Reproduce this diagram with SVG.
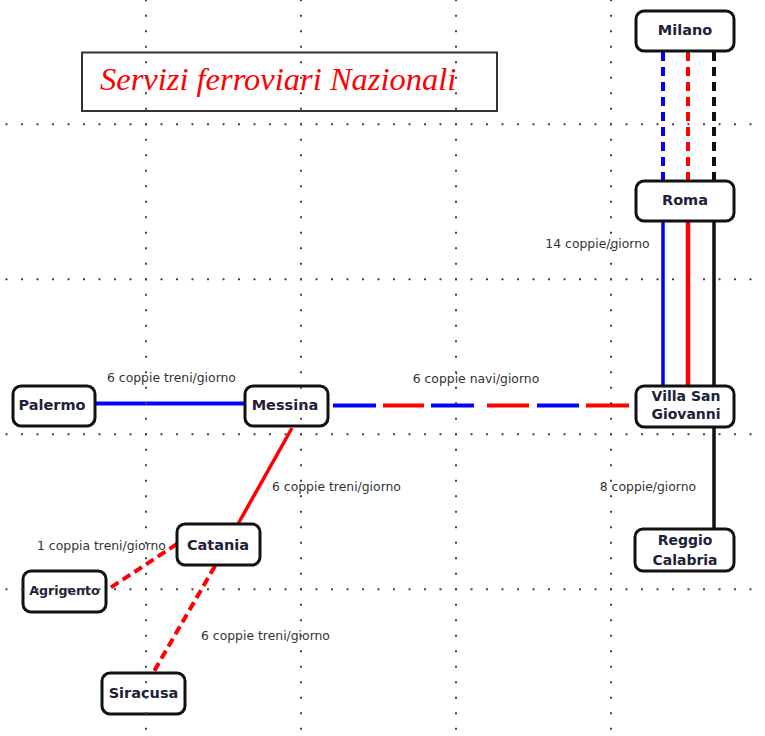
<svg xmlns="http://www.w3.org/2000/svg" width="765" height="736" viewBox="0 0 765 736">
<style>
.node rect{fill:none;stroke:#111;stroke-width:3}
.node text{font-family:"DejaVu Sans",sans-serif;font-weight:bold;font-size:14.5px;fill:#1e2238;text-anchor:middle}
.lbl{font-family:"DejaVu Sans",sans-serif;font-size:12.4px;fill:#333;text-anchor:middle}
.grid line{stroke:#444;stroke-width:2;stroke-dasharray:2 13.5}
.b{stroke:#0000ff}
.r{stroke:#ff0000}
.k{stroke:#111}
</style>
<rect width="765" height="736" fill="#fff"/>
<g id="title">
<rect x="82" y="52.5" width="415" height="58.5" fill="none" stroke="#333" stroke-width="2"/>
<text x="100" y="90" font-family="Liberation Serif, serif" font-style="italic" font-size="32.5" fill="#ff0000">Servizi ferroviari Nazionali</text>
</g>
<g id="connectors" fill="none">
<g stroke-dasharray="9 6" stroke-width="4">
<line class="b" x1="663" y1="52" x2="663" y2="180"/>
<line class="r" x1="688" y1="52" x2="688" y2="180"/>
<line class="k" x1="714" y1="52" x2="714" y2="180"/>
</g>
<line class="b" x1="663" y1="222" x2="663" y2="385" stroke-width="3.5"/>
<line class="r" x1="688" y1="222" x2="688" y2="385" stroke-width="4.5"/>
<line class="k" x1="714" y1="222" x2="714" y2="385" stroke-width="3.5"/>
<line class="k" x1="714" y1="428" x2="714" y2="528" stroke-width="3.5"/>
<line class="b" x1="96" y1="403.5" x2="244" y2="403.5" stroke-width="4"/>
<g stroke-width="4">
<line class="b" x1="333" y1="405.5" x2="376" y2="405.5"/>
<line class="r" x1="383" y1="405.5" x2="424" y2="405.5"/>
<line class="b" x1="431" y1="405.5" x2="474" y2="405.5"/>
<line class="r" x1="487" y1="405.5" x2="529" y2="405.5"/>
<line class="b" x1="537" y1="405.5" x2="579" y2="405.5"/>
<line class="r" x1="586" y1="405.5" x2="629" y2="405.5"/>
</g>
<line class="r" x1="292" y1="428" x2="238" y2="524" stroke-width="3.5"/>
<line class="r" x1="177" y1="544" x2="107" y2="590" stroke-width="4" stroke-dasharray="9 5"/>
<line class="r" x1="215" y1="566" x2="153" y2="673" stroke-width="4" stroke-dasharray="9 5"/>
</g>
<g id="labels">
<text class="lbl" x="597.5" y="248">14 coppie/giorno</text>
<text class="lbl" x="171.5" y="382">6 coppie treni/giorno</text>
<text class="lbl" x="476" y="383">6 coppie navi/giorno</text>
<text class="lbl" x="336.5" y="491">6 coppie treni/giorno</text>
<text class="lbl" x="101.5" y="550">1 coppia treni/giorno</text>
<text class="lbl" x="265.5" y="640">6 coppie treni/giorno</text>
<text class="lbl" x="648" y="491">8 coppie/giorno</text>
</g>
<g id="milano" class="node"><rect x="636" y="11" width="98" height="40" rx="8"/><text x="685" y="35">Milano</text></g>
<g id="roma" class="node"><rect x="636" y="181" width="98" height="40" rx="8"/><text x="685" y="205">Roma</text></g>
<g id="villa" class="node"><rect x="636" y="386" width="98" height="41" rx="8"/><text x="686" y="400.5" style="font-size:14px">Villa San</text><text x="686" y="419" style="font-size:14px">Giovanni</text></g>
<g id="reggio" class="node"><rect x="635" y="529" width="99" height="42" rx="8"/><text x="685" y="545" style="font-size:14px">Reggio</text><text x="685" y="565" style="font-size:14px">Calabria</text></g>
<g id="palermo" class="node"><rect x="13" y="386" width="82" height="40" rx="8"/><text x="52" y="410">Palermo</text></g>
<g id="messina" class="node"><rect x="245" y="386" width="83" height="40" rx="8"/><text x="285" y="410">Messina</text></g>
<g id="catania" class="node"><rect x="177" y="524" width="83" height="41" rx="8"/><text x="218" y="550">Catania</text></g>
<g id="agrigento" class="node"><rect x="23" y="571" width="83" height="41" rx="8"/><text x="64.5" y="594.5" style="font-size:12.6px">Agrigento</text></g>
<g id="siracusa" class="node"><rect x="102" y="673" width="83" height="41" rx="8"/><text x="143.5" y="698">Siracusa</text></g>
<g class="grid">
<line x1="5.5" y1="124.3" x2="765" y2="124.3"/>
<line x1="5.5" y1="279.3" x2="765" y2="279.3"/>
<line x1="5.5" y1="434.3" x2="765" y2="434.3"/>
<line x1="5.5" y1="589.3" x2="765" y2="589.3"/>
<line x1="146" y1="-0.7" x2="146" y2="736"/>
<line x1="301" y1="-0.7" x2="301" y2="736"/>
<line x1="456" y1="-0.7" x2="456" y2="736"/>
<line x1="611" y1="-0.7" x2="611" y2="736"/>
</g>
</svg>
